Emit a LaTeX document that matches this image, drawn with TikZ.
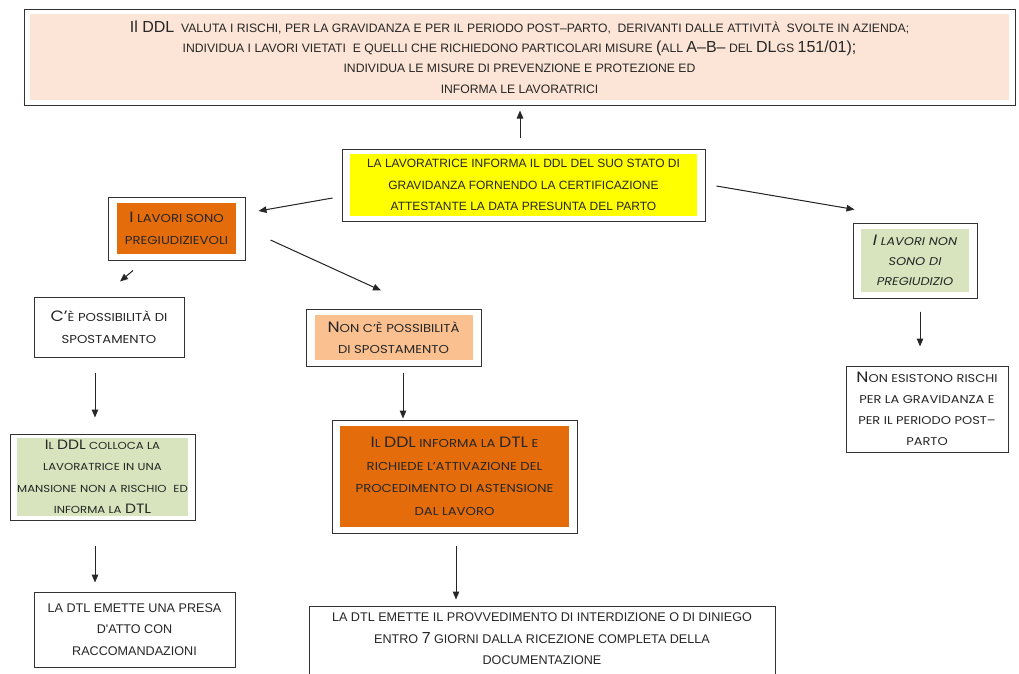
\documentclass[tikz,border=0pt]{standalone}
\usepackage{fontspec}
\setmainfont{Poppins}[FakeStretch=1.15]
\newfontfamily\plain{Liberation Sans}
\usetikzlibrary{arrows.meta,calc}
\definecolor{peach}{RGB}{252,229,214}
\definecolor{yel}{RGB}{255,255,0}
\definecolor{orng}{RGB}{228,108,10}
\definecolor{grn}{RGB}{215,228,189}
\definecolor{lorng}{RGB}{250,192,144}
\newcommand\Bg[1]{{\fontsize{15}{21}\selectfont #1}}
\newcommand\Bs[1]{{\fontsize{13.5}{21}\selectfont #1}}
\newcommand\Bn[1]{{\fontsize{16}{20}\selectfont #1}}
\begin{document}
\begin{tikzpicture}[x=1pt,y=-1pt,
  frame/.style={draw=black!80, line width=1pt, fill=white, inner sep=0pt, align=center, text=black!85},
  infill/.style n args={3}{path picture={\fill[#1] ([shift={(#2,-#3)}]path picture bounding box.north west) rectangle ([shift={(-#2,#3)}]path picture bounding box.south east);}},
  sc/.style={font=\fontsize{11.5}{21.5}\selectfont},
  nar/.style={font=\plain\fontsize{12.2}{20.3}\selectfont},
  nar2/.style={font=\plain\fontsize{12.6}{21.5}\selectfont},
  arr/.style={-{Triangle[length=8pt,width=6.5pt]}, line width=1pt, draw=black!85, fill=black!85}]
\clip (0,0) rectangle (1019,673);
\fill[white] (0,0) rectangle (1019,673);

\node[frame, nar, infill={peach}{6pt}{5pt}, minimum width=991pt, minimum height=96pt] (top) at (519.5,57)
 {\Bn{Il DDL} \ VALUTA I RISCHI, PER LA GRAVIDANZA E PER IL PERIODO POST–PARTO, \ DERIVANTI DALLE ATTIVITÀ \ SVOLTE IN AZIENDA;\\
  INDIVIDUA I LAVORI VIETATI \ E QUELLI CHE RICHIEDONO PARTICOLARI MISURE \Bn{(}ALL \Bn{A–B–} DEL \Bn{DL}GS \Bn{151/01);}\\
  INDIVIDUA LE MISURE DI PREVENZIONE E PROTEZIONE ED\\
  INFORMA LE LAVORATRICI};

\node[frame, infill={yel}{8pt}{5pt}, minimum width=363pt, minimum height=72pt, font=\plain\fontsize{12}{21.5}\selectfont] (yellow) at (523.5,185)
 {LA LAVORATRICE INFORMA IL DDL DEL SUO STATO DI\\ GRAVIDANZA FORNENDO LA CERTIFICAZIONE\\ ATTESTANTE LA DATA PRESUNTA DEL PARTO};

\node[frame, sc, infill={orng}{9pt}{6pt}, minimum width=137pt, minimum height=63pt] (pregiu) at (176.5,228.5)
 {\Bg{I} LAVORI SONO\\ PREGIUDIZIEVOLI};

\node[frame, font=\itshape\fontsize{11.2}{20}\selectfont, infill={grn}{8pt}{6pt}, minimum width=124pt, minimum height=75pt] (nonpreg) at (915,260.5)
 {\Bg{I} LAVORI NON\\ SONO DI\\ PREGIUDIZIO};

\node[frame, sc, minimum width=150pt, minimum height=60pt] (cepos) at (109,327)
 {\Bg{C'}È POSSIBILITÀ DI\\ SPOSTAMENTO};

\node[frame, sc, infill={lorng}{8.5pt}{6pt}, minimum width=175pt, minimum height=57pt] (noncepos) at (393.5,337.5)
 {\Bg{N}ON C'È POSSIBILITÀ\\ DI SPOSTAMENTO};

\node[frame, font=\fontsize{10.2}{21.5}\selectfont, infill={grn}{7pt}{4pt}, minimum width=185pt, minimum height=86pt, text width=183pt] (colloca) at (102.5,477)
 {\Bs{I}L \Bs{DDL} COLLOCA LA\\ LAVORATRICE IN UNA\\ MANSIONE NON A RISCHIO \ ED\\ INFORMA LA \Bs{DTL}};

\node[frame, font=\fontsize{11.5}{22.5}\selectfont, infill={orng}{8pt}{6pt}, minimum width=245pt, minimum height=113pt] (informa) at (454.5,476.5)
 {\Bg{I}L \Bg{DDL} INFORMA LA \Bg{DTL} E\\ RICHIEDE L'ATTIVAZIONE DEL\\ PROCEDIMENTO DI ASTENSIONE\\ DAL LAVORO};

\node[frame, font=\fontsize{11.3}{21}\selectfont, minimum width=162pt, minimum height=86pt] (nonesist) at (927,409)
 {\Bg{N}ON ESISTONO RISCHI\\ PER LA GRAVIDANZA E\\ PER IL PERIODO POST–\\ PARTO};

\node[frame, nar2, minimum width=201pt, minimum height=75pt] (presa) at (134.5,629.5)
 {LA DTL EMETTE UNA PRESA\\ D'ATTO CON\\ RACCOMANDAZIONI};

\node[frame, nar2, minimum width=466pt, minimum height=84pt, text depth=18pt] (provv) at (542,648)
 {LA DTL EMETTE IL PROVVEDIMENTO DI INTERDIZIONE O DI DINIEGO\\ ENTRO \Bn{7} GIORNI DALLA RICEZIONE COMPLETA DELLA\\ DOCUMENTAZIONE};

\draw[arr] ($(yellow.north)+(-3.5,-11)$) -- ($(top.south)+(0.5,5)$);
\draw[arr] ($(yellow.west)+(-9,13)$) -- ($(pregiu.east)+(13,-17.5)$);
\draw[arr] ($(yellow.east)+(11,1)$) -- ($(nonpreg.north west)+(2,-13)$);
\draw[arr] ($(pregiu.south)+(-43.5,10)$) -- ($(cepos.north)+(11,-15)$);
\draw[arr] ($(pregiu.east)+(25,11.5)$) -- ($(noncepos.north)+(-12.5,-18)$);
\draw[arr] ($(nonpreg.south)+(5,13)$) -- ($(nonesist.north)+(-7,-19)$);
\draw[arr] ($(cepos.south)+(-14,15)$) -- ($(colloca.north)+(-7.5,-16)$);
\draw[arr] ($(noncepos.south)+(9.5,6)$) -- ($(informa.north)+(-51.5,-1)$);
\draw[arr] ($(colloca.south)+(-7.5,25)$) -- ($(presa.north)+(-39.5,-9)$);
\draw[arr] ($(informa.south)+(1.5,12)$) -- ($(provv.north)+(-86,-6)$);
\end{tikzpicture}
\end{document}
